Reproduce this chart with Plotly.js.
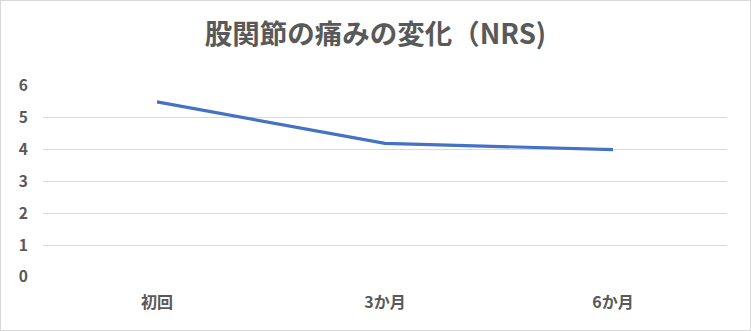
<!DOCTYPE html>
<html>
<head>
<meta charset="utf-8">
<script src="https://cdn.plot.ly/plotly-3.0.1.min.js"></script>
<style>
html,body{margin:0;padding:0;background:#fff;}
#chart{width:751px;height:331px;box-sizing:border-box;border:1px solid #d9d9d9;}
</style>
</head>
<body>
<div id="chart"></div>
<script>
const categories = ["初回", "3か月", "6か月"];
const values = [5.5, 4.2, 4.0];
const yTicks = [0, 1, 2, 3, 4, 5, 6];
const titleText = "股関節の痛みの変化（NRS)";

const font = '"Noto Sans CJK JP", "Noto Sans", sans-serif';
Plotly.newPlot('chart', [{
  x: categories,
  y: values,
  type: 'scatter',
  mode: 'lines',
  line: {color: '#4472C4', width: 3.2},
  hoverinfo: 'skip'
}], {
  width: 749, height: 329,
  margin: {l: 42, r: 23, t: 85, b: 53},
  paper_bgcolor: '#fff', plot_bgcolor: '#fff',
  showlegend: false,
  title: {text: titleText, x: 0.5, xanchor: 'center', y: 0.9, yanchor: 'middle',
          font: {family: font, size: 27.5, color: '#595959', weight: 'bold'}},
  xaxis: {type: 'category', range: [-0.5, 2.5], showgrid: false, zeroline: false, showline: false,
          ticks: '', ticklabelstandoff: 14,
          tickfont: {family: font, size: 16, color: '#595959', weight: 'bold'}},
  yaxis: {range: [0, 6], tickvals: yTicks, showgrid: true, gridcolor: '#d9d9d9', gridwidth: 1,
          zeroline: false, showline: false, ticks: '', ticklabelstandoff: 14,
          tickfont: {family: font, size: 15.5, color: '#595959', weight: 'bold'}}
}, {displayModeBar: false, staticPlot: true});
</script>
</body>
</html>
